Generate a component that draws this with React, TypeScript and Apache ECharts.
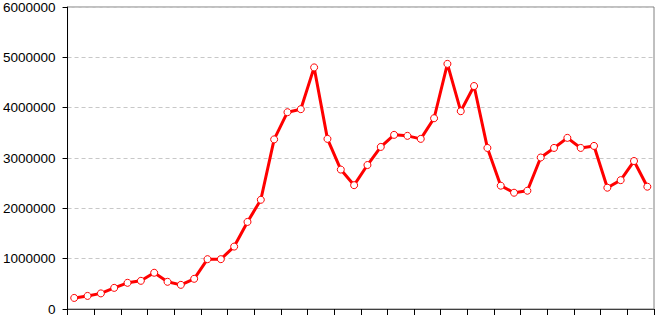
import React, { useEffect, useRef } from "react";
import * as echarts from "echarts";

const categories: string[] = Array.from({ length: 44 }, (_, i) => String(i + 1));
const seriesValues: number[] = [
  220000, 260000, 310000, 420000, 520000, 560000, 720000, 540000, 480000, 600000,
  990000, 990000, 1240000, 1730000, 2170000, 3370000, 3910000, 3970000, 4800000, 3380000,
  2770000, 2460000, 2860000, 3220000, 3460000, 3440000, 3380000, 3790000, 4870000, 3930000,
  4430000, 3200000, 2450000, 2310000, 2350000, 3010000, 3200000, 3400000, 3200000, 3240000,
  2410000, 2560000, 2940000, 2430000,
];
const yTicks: number[] = [0, 1000000, 2000000, 3000000, 4000000, 5000000, 6000000];

export default function App() {
  const ref = useRef<HTMLDivElement>(null);
  useEffect(() => {
    if (!ref.current) return;
    const chart = echarts.init(ref.current, null, { renderer: "svg" });
    chart.setOption({
      animation: false,
      backgroundColor: "#ffffff",
      grid: {
        left: 65,
        right: 4,
        top: 4,
        bottom: 6,
        show: true,
        borderColor: "#808080",
        borderWidth: 1,
        backgroundColor: "transparent",
      },
      xAxis: {
        type: "category",
        data: categories,
        boundaryGap: true,
        axisLine: { show: true, lineStyle: { color: "#404040", width: 1 } },
        axisTick: { show: true, interval: 1, length: 6, lineStyle: { color: "#000000" } },
        axisLabel: { show: false },
        splitLine: { show: false },
      },
      yAxis: {
        type: "value",
        min: yTicks[0],
        max: yTicks[yTicks.length - 1],
        interval: 1000000,
        axisLine: { show: true, lineStyle: { color: "#000000", width: 1 } },
        axisTick: { show: true, length: 5, lineStyle: { color: "#000000" } },
        axisLabel: {
          margin: 12,
          color: "#000000",
          fontFamily: "Liberation Sans, Arial, sans-serif",
          fontSize: 13.5,
          formatter: (v: number) => String(v),
        },
        splitLine: { show: true, lineStyle: { color: "#c8c8c8", type: [4, 3], width: 1 } },
      },
      series: [
        {
          type: "line",
          data: seriesValues,
          symbol: "circle",
          symbolSize: 7,
          lineStyle: { color: "#ff0000", width: 3 },
          itemStyle: { color: "#ffffff", borderColor: "#ff0000", borderWidth: 1 },
        },
      ],
    });
    return () => chart.dispose();
  }, []);
  return (
    <div
      ref={ref}
      style={{ position: "fixed", left: 0, top: 0, width: 658, height: 316 }}
    />
  );
}
